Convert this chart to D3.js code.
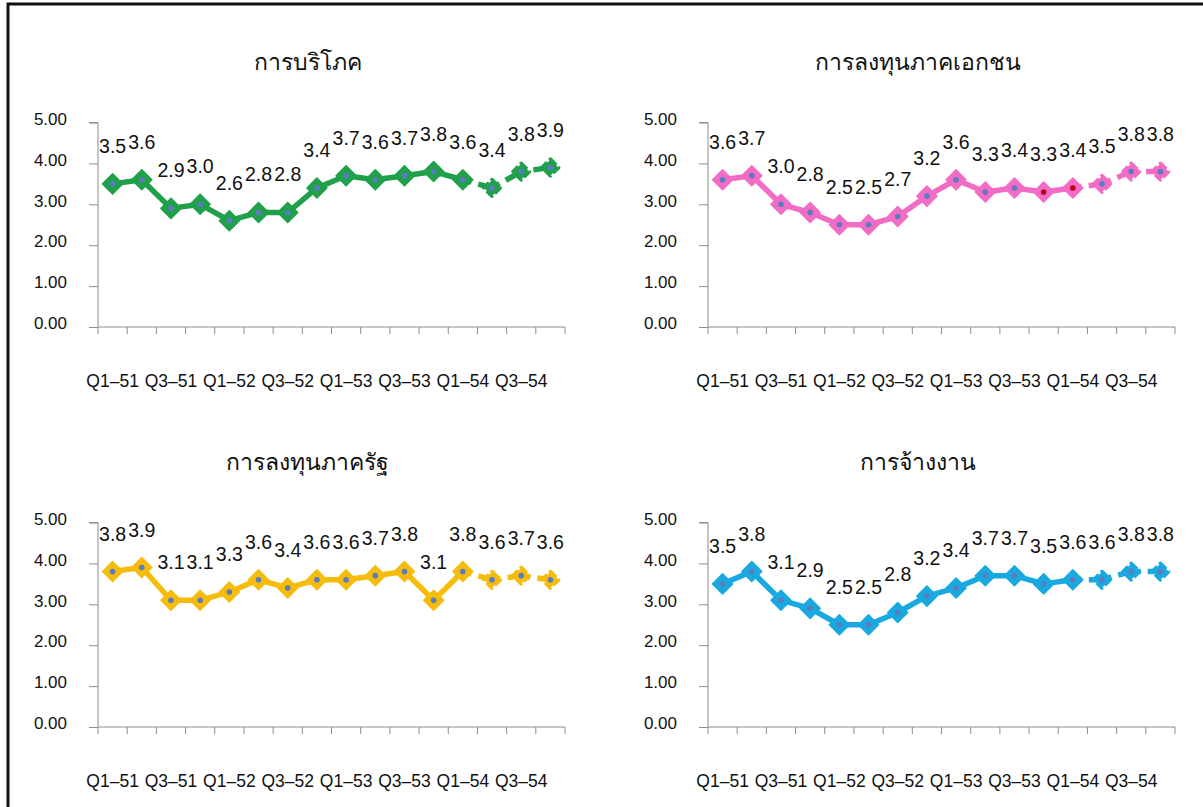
<!DOCTYPE html>
<html>
<head>
<meta charset="utf-8">
<script src="https://cdn.jsdelivr.net/npm/d3@7"></script>
<style>
  html, body { margin: 0; padding: 0; background: #fff; }
  svg { display: block; }
  .axis path, .axis line { stroke: #8c8c8c; }
  .axis text { fill: #111; font-family: "Liberation Sans", Arial, sans-serif; }
  .title { font-family: "Noto Sans", "DejaVu Sans", sans-serif; font-size: 23px; fill: #111; }
  .val { font-family: "Liberation Sans", Arial, sans-serif; font-size: 19.5px; fill: #111; }
</style>
</head>
<body>
<div id="chart"></div>
<script>
// quarters Q1-51 .. Q4-54 (Thai fiscal years 2551-2554)
const quarters = ["Q1–51", "Q2–51", "Q3–51", "Q4–51", "Q1–52", "Q2–52", "Q3–52", "Q4–52",
  "Q1–53", "Q2–53", "Q3–53", "Q4–53", "Q1–54", "Q2–54", "Q3–54", "Q4–54"];
const yTicks = [0, 1, 2, 3, 4, 5];

const titles = ["การบริโภค", "การลงทุนภาคเอกชน", "การลงทุนภาครัฐ", "การจ้างงาน"];
const consumption = [3.5, 3.6, 2.9, 3.0, 2.6, 2.8, 2.8, 3.4, 3.7, 3.6, 3.7, 3.8, 3.6, 3.4, 3.8, 3.9];
const privateInvest = [3.6, 3.7, 3.0, 2.8, 2.5, 2.5, 2.7, 3.2, 3.6, 3.3, 3.4, 3.3, 3.4, 3.5, 3.8, 3.8];
const publicInvest = [3.8, 3.9, 3.1, 3.1, 3.3, 3.6, 3.4, 3.6, 3.6, 3.7, 3.8, 3.1, 3.8, 3.6, 3.7, 3.6];
const employment = [3.5, 3.8, 3.1, 2.9, 2.5, 2.5, 2.8, 3.2, 3.4, 3.7, 3.7, 3.5, 3.6, 3.6, 3.8, 3.8];
const forecastFrom = 12; // Q1-54 onward drawn dashed
const redDotIdx = [[], [11, 12], [], []];

const colors = ["#20A04A", "#F26CC6", "#F6BC0C", "#19A9E0"];
const dotColor = "#5B7CBE";

const width = 1203, height = 807;
const plotW = 467, plotH = 204.5;
const origins = [[98, 122.5], [708, 122.5], [98, 522.5], [708, 522.5]];

const svg = d3.select("#chart").append("svg")
  .attr("width", width)
  .attr("height", height);

// picture frame (only left and top edges fall inside)
svg.append("rect")
  .attr("x", 8).attr("y", 4)
  .attr("width", width + 20).attr("height", height + 20)
  .attr("fill", "none").attr("stroke", "#111").attr("stroke-width", 3);

const allSeries = [consumption, privateInvest, publicInvest, employment];

function diamond(r) {
  return `M0,${-r}L${r},0L0,${r}L${-r},0Z`;
}

allSeries.forEach(function (values, i) {
  const [ox, oy] = origins[i];
  const color = colors[i];
  const g = svg.append("g").attr("transform", "translate(" + ox + "," + oy + ")");

  const x = d3.scaleBand().domain(quarters).range([0, plotW]);
  const y = d3.scaleLinear().domain([0, 5]).range([plotH, 0]);
  const cx = (d) => x(d) + x.bandwidth() / 2;

  g.append("text")
    .attr("class", "title")
    .attr("x", plotW / 2 - 24)
    .attr("y", -53)
    .attr("text-anchor", "middle")
    .text(titles[i]);

  // y axis
  const ya = g.append("g")
    .attr("class", "axis")
    .call(d3.axisLeft(y).tickValues(yTicks).tickSize(9).tickPadding(22)
      .tickFormat(d3.format(".2f")));
  ya.select(".domain").attr("d", "M0," + plotH + "V0H-9");
  ya.selectAll("text").style("font-size", "17px").attr("dy", "0.1em");

  // x axis: ticks on category boundaries, labels every 2nd quarter
  const xa = g.append("g")
    .attr("class", "axis")
    .attr("transform", "translate(0," + plotH + ")")
    .call(d3.axisBottom(x).tickSize(0).tickPadding(48)
      .tickFormat((d, k) => (k % 2 === 0 ? d : "")));
  xa.select(".domain").attr("d", "M0,0H" + plotW);
  xa.selectAll("text").style("font-size", "17.5px");
  xa.selectAll(".bound")
    .data(d3.range(quarters.length + 1))
    .join("line")
    .attr("class", "bound")
    .attr("x1", (k) => k * x.bandwidth())
    .attr("x2", (k) => k * x.bandwidth())
    .attr("y1", 0).attr("y2", 7)
    .attr("stroke", "#8c8c8c");

  const pts = values.map((v, k) => ({ q: quarters[k], v: v, k: k }));
  const line = d3.line().x((d) => cx(d.q)).y((d) => y(d.v));

  g.append("path")
    .datum(pts.slice(0, forecastFrom + 1))
    .attr("d", line)
    .attr("fill", "none")
    .attr("stroke", color)
    .attr("stroke-width", 5.5)
    .attr("stroke-linejoin", "round");

  g.append("path")
    .datum(pts.slice(forecastFrom))
    .attr("d", line)
    .attr("fill", "none")
    .attr("stroke", color)
    .attr("stroke-width", 5.5)
    .attr("stroke-dasharray", "23,7")
    .attr("stroke-dashoffset", 14);

  const m = g.selectAll(".mk")
    .data(pts)
    .join("g")
    .attr("class", "mk")
    .attr("transform", (d) => "translate(" + cx(d.q) + "," + y(d.v) + ")");

  m.append("path")
    .attr("d", (d) => diamond(d.k > forecastFrom ? 8 : 10))
    .attr("fill", color)
    .attr("stroke", color)
    .attr("stroke-width", (d) => (d.k > forecastFrom ? 4 : 1.5))
    .attr("stroke-linejoin", "round")
    .attr("stroke-dasharray", (d) => (d.k > forecastFrom ? "8,3" : null));

  m.append("circle")
    .attr("r", 2.8)
    .attr("fill", (d) => (redDotIdx[i].includes(d.k) ? "#C00018" : dotColor));

  g.selectAll(".val")
    .data(pts)
    .join("text")
    .attr("class", "val")
    .attr("x", (d) => cx(d.q))
    .attr("y", (d) => y(d.v) - 31)
    .attr("text-anchor", "middle")
    .text((d) => d3.format(".1f")(d.v));
});
</script>
</body>
</html>
